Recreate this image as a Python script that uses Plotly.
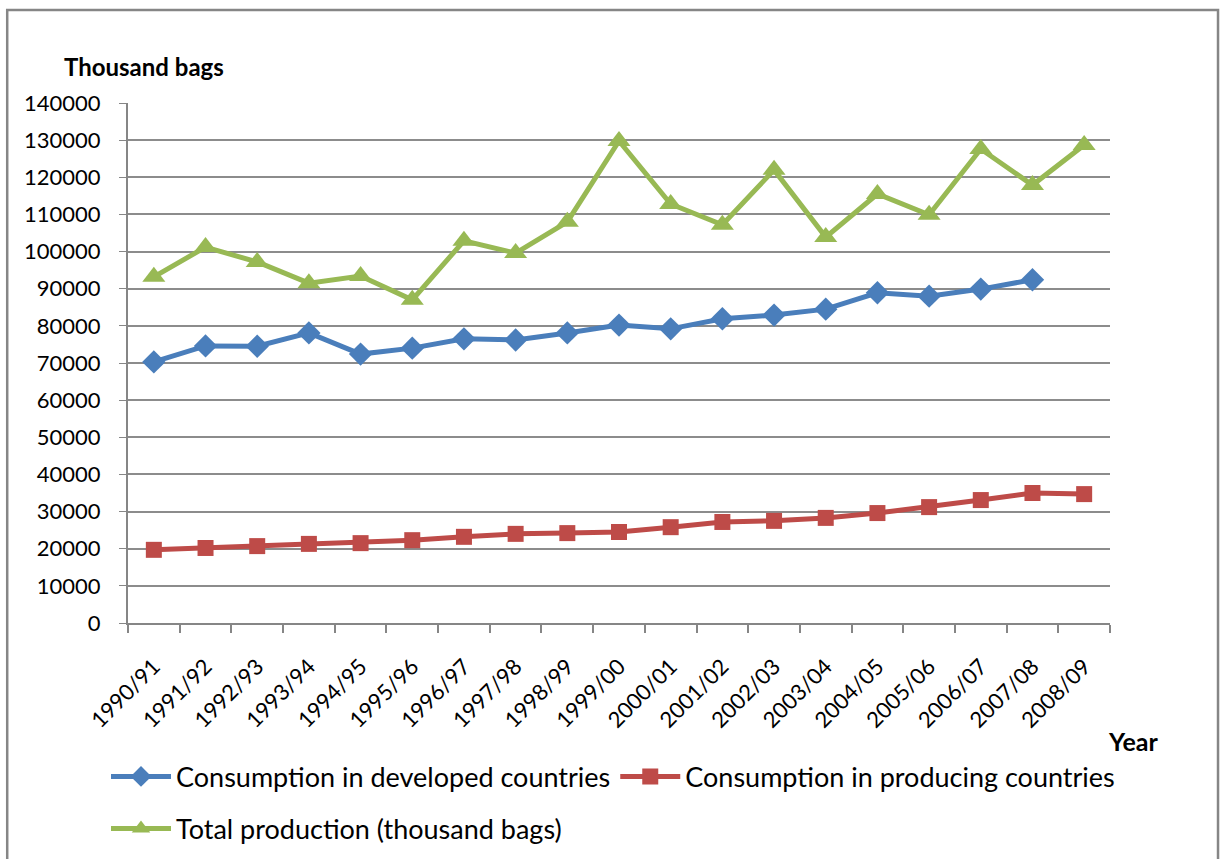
import plotly.graph_objects as go

years = ["1990/91", "1991/92", "1992/93", "1993/94", "1994/95", "1995/96", "1996/97",
         "1997/98", "1998/99", "1999/00", "2000/01", "2001/02", "2002/03", "2003/04",
         "2004/05", "2005/06", "2006/07", "2007/08", "2008/09"]

developed = [70300, 74600, 74500, 78100, 72400, 74000, 76500, 76200, 78100, 80200,
             79200, 81900, 82900, 84500, 88900, 88000, 89900, 92400, None]

producing = [19700, 20200, 20700, 21300, 21500, 22300, 23200, 24000, 24200, 24500,
             25800, 27200, 27500, 28300, 29600, 31200, 33100, 35000, 34700]

production = [93200, 101200, 97200, 91500, 93400, 87000, 102900, 99600, 108000, 129800,
              112800, 107200, 122000, 103900, 115500, 109900, 127600, 117900, 128700]

yticks = list(range(0, 140001, 10000))

FONT = "Lato, 'Open Sans', sans-serif"

fig = go.Figure()
fig.add_trace(go.Scatter(x=years, y=developed, mode="lines+markers",
                         name="Consumption in developed countries", legend="legend",
                         line=dict(color="#4a7ebb", width=5),
                         marker=dict(symbol="diamond", size=18, color="#4a7ebb")))
fig.add_trace(go.Scatter(x=years, y=producing, mode="lines+markers",
                         name="Consumption in producing countries", legend="legend",
                         line=dict(color="#be4b48", width=5),
                         marker=dict(symbol="square", size=16, color="#be4b48")))
fig.add_trace(go.Scatter(x=years, y=production, mode="lines+markers",
                         name="Total production (thousand bags)", legend="legend2",
                         line=dict(color="#98b954", width=5),
                         marker=dict(symbol="triangle-up", size=20, color="#98b954")))

legend_common = dict(orientation="h", xanchor="left", yanchor="middle",
                     font=dict(size=27, family=FONT, color="black"), itemwidth=60,
                     bgcolor="rgba(0,0,0,0)", traceorder="normal")

fig.update_layout(
    width=1220, height=859,
    margin=dict(l=128, r=110, t=103, b=236, autoexpand=False),
    paper_bgcolor="white", plot_bgcolor="white",
    font=dict(family=FONT, size=22, color="black"),
    showlegend=True,
    legend=dict(x=-0.0224, y=-0.296, **legend_common),
    legend2=dict(x=-0.0224, y=-0.396, **legend_common),
    xaxis=dict(type="category", showgrid=False, showline=True, linecolor="#868686", linewidth=2,
               ticks="outside", ticklen=8, tickcolor="#868686", tickwidth=1.5,
               tickson="boundaries", tickangle=-45, tickfont=dict(size=22),
               ticklabelstandoff=20, range=[-0.5, 18.5], automargin=False),
    yaxis=dict(range=[0, 140000], tickvals=yticks, ticktext=[str(v) for v in yticks],
               showgrid=True, gridcolor="#8c8c8c", gridwidth=2,
               showline=True, linecolor="#868686", linewidth=2,
               ticks="outside", ticklen=7, tickcolor="#868686",
               tickfont=dict(size=22), ticklabelstandoff=14, zeroline=False,
               automargin=False),
    annotations=[
        dict(text="<b>Thousand bags</b>", xref="paper", yref="paper",
             x=-0.067, y=1.071, xanchor="left", yanchor="middle", showarrow=False,
             font=dict(size=24, family=FONT)),
        dict(text="<b>Year</b>", xref="paper", yref="paper",
             x=1.051, y=-0.227, xanchor="right", yanchor="middle", showarrow=False,
             font=dict(size=25, family=FONT)),
    ],
    shapes=[dict(type="rect", xref="paper", yref="paper",
                 x0=-0.123, x1=1.110, y0=-0.5, y1=1.179,
                 line=dict(color="#868686", width=2.5), fillcolor="rgba(0,0,0,0)", layer="below")],
)

fig.write_html("out.html")
